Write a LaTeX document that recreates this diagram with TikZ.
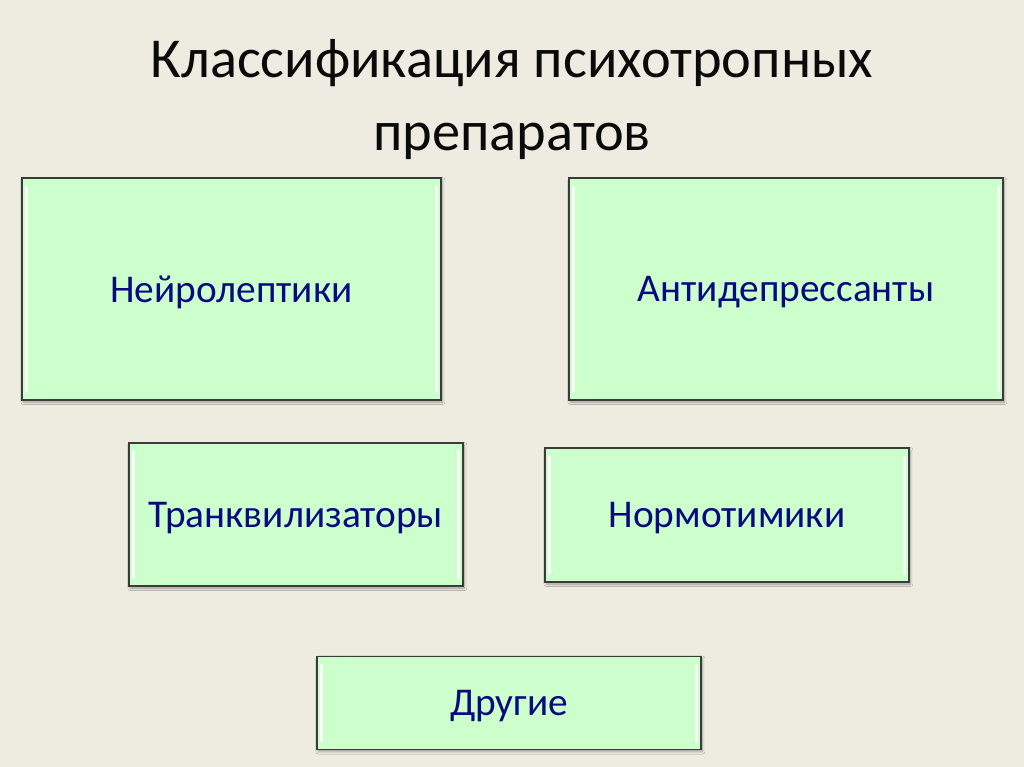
\documentclass[tikz,border=0pt]{standalone}
\usepackage{fontspec}
\setmainfont{Carlito}
\usepackage{xcolor}
\usepackage{tikz}
\usetikzlibrary{positioning, calc, shadows.blur}
\definecolor{slidetan}{HTML}{EEECE1}
\definecolor{groupmint}{HTML}{CCFFCC}
\definecolor{groupedge}{HTML}{3A3A3A}
\definecolor{groupnavy}{HTML}{0A0A80}
\definecolor{titleink}{HTML}{0A0A0A}

\begin{document}
\begin{tikzpicture}[x=0.75pt, y=-0.75pt,
    groupbox/.style={draw=groupedge, line width=0.9pt, fill=groupmint, text=groupnavy,
      font=\fontsize{29.5}{34}\selectfont, inner sep=0pt, text depth=0pt,
      blur shadow={shadow xshift=1pt, shadow yshift=-1.5pt, shadow blur steps=4, shadow opacity=35}},
    bevel/.style={white, opacity=0.85, line width=2.6pt, line cap=round}]
    % Slide background
    \fill[slidetan] (0,0) rectangle (1024,767);
    \useasboundingbox (0,0) rectangle (1024,767);
    % Title
    \node[titleink, font=\fontsize{42.3}{55}\selectfont, align=center] (title) at (512,99.5)
      {Классификация психотропных\\препаратов};
    % Groups of drugs
    \node[groupbox, minimum width=314.25pt, minimum height=166.5pt] (neuro) at (231.5,289) {Нейролептики};
    \node[groupbox, minimum width=325.5pt, minimum height=166.5pt] (antidep) at (786,289) {Антидепрессанты};
    \node[groupbox, minimum width=250.5pt, minimum height=107.25pt] (tranq) at (296,514.5) {Транквилизаторы};
    \node[groupbox, minimum width=273pt, minimum height=100.5pt] (normo) at (727,515) {Нормотимики};
    \node[groupbox, minimum width=288pt, minimum height=69.75pt] (other) at (509,703) {Другие};
    % Bevel highlights on the side edges
    \foreach \grp in {neuro, antidep, tranq, normo, other} {
      \draw[bevel] ([xshift=4pt,yshift=-7pt]\grp.north west) -- ([xshift=4pt,yshift=7pt]\grp.south west);
      \draw[bevel] ([xshift=-4pt,yshift=-7pt]\grp.north east) -- ([xshift=-4pt,yshift=7pt]\grp.south east);
    }
  \end{tikzpicture}
\end{document}
